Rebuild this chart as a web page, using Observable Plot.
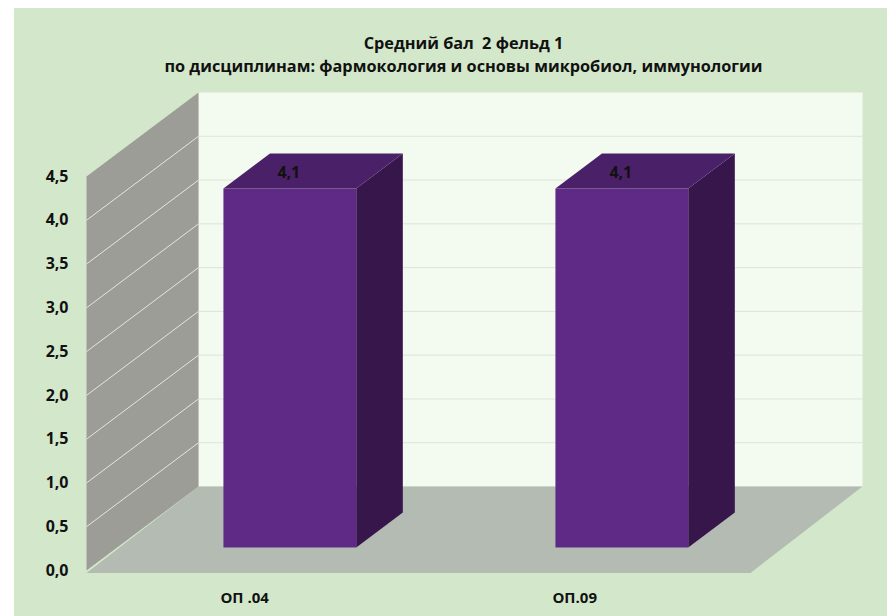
<!DOCTYPE html>
<html><head><meta charset="utf-8">
<script src="https://cdn.jsdelivr.net/npm/d3@7"></script>
<script src="https://cdn.jsdelivr.net/npm/@observablehq/plot@0.6"></script>
<style>
body{margin:0;background:#fff;width:887px;height:616px;overflow:hidden;position:relative;font-family:"Open Sans",sans-serif}
#panel{position:absolute;left:14px;top:8px;right:0;bottom:0;background:#d3e8cb}
#title{position:absolute;left:20px;top:32px;width:887px;text-align:center;font-weight:bold;font-size:16.3px;line-height:23px;color:#111}
#chart{position:absolute;left:0;top:0}
#chart svg text{font-weight:bold}
</style></head><body>
<div id="panel"></div>
<div id="title"><div>Средний бал&nbsp;&nbsp;2 фельд 1</div><div>по дисциплинам: фармокология и основы микробиол, иммунологии</div></div>
<div id="chart"></div>
<script>
// data
const categories = ["ОП .04", "ОП.09"];
const values = [4.1, 4.1];
const yTicks = [0, 0.5, 1, 1.5, 2, 2.5, 3, 3.5, 4, 4.5];

// 3D geometry (oblique projection expressed in data units)
const XMAX = 2, YMAX = 4.5;
const DX = 112 / 332, DY = 84 / 87.56;
const Z1 = 0.274, Z2 = 0.69, HALF = 0.2, OFF = 0.52, FLOOR_T = 0.028;
const P = (x, y, z) => ({x: x + z * DX, y: y + z * DY});
const poly = (id, pts) => pts.map(p => ({...p, id}));

const backWall = poly("back", [P(0,0,1), P(XMAX,0,1), P(XMAX,YMAX,1), P(0,YMAX,1)]);
const sideWall = poly("side", [P(0,0,0), P(0,0,1), P(0,YMAX,1), P(0,YMAX,0)]);
const floor = poly("floor", [P(0,-FLOOR_T,0), P(XMAX,-FLOOR_T,0), P(XMAX,0,1), P(0,0,1)]);

const inner = yTicks.filter(v => v > 0 && v < YMAX);
const backGrid = inner.map(v => { const a = P(0,v,1), b = P(XMAX,v,1); return {x1:a.x,y1:a.y,x2:b.x,y2:b.y}; });
const sideGrid = inner.map(v => { const a = P(0,v,0), b = P(0,v,1); return {x1:a.x,y1:a.y,x2:b.x,y2:b.y}; });

const fronts = [], sides = [], tops = [], labels = [], cats = [];
categories.forEach((c, i) => {
  const v = values[i], x0 = i + OFF - HALF, x1 = i + OFF + HALF;
  fronts.push(...poly("f"+i, [P(x0,0,Z1), P(x1,0,Z1), P(x1,v,Z1), P(x0,v,Z1)]));
  sides.push(...poly("s"+i, [P(x1,0,Z1), P(x1,0,Z2), P(x1,v,Z2), P(x1,v,Z1)]));
  tops.push(...poly("t"+i, [P(x0,v,Z1), P(x1,v,Z1), P(x1,v,Z2), P(x0,v,Z2)]));
  const lp = P(i + OFF, v, Z1);
  labels.push({x: lp.x, y: lp.y, text: v.toFixed(1).replace(".", ",")});
  const cp = P(x0, 0, Z1);
  cats.push({x: cp.x, y: 0, text: c});
});

const shape = (data, fill) => Plot.line(data, {x:"x", y:"y", z:"id", fill, stroke:"none", curve:"linear-closed"});

const chart = Plot.plot({
  width: 887, height: 616,
  marginLeft: 86, marginRight: 137, marginTop: 176, marginBottom: 46,
  x: {domain: [0, XMAX], axis: null},
  y: {domain: [0, YMAX], axis: null},
  style: {background: "transparent", overflow: "visible", fontFamily: "Open Sans, sans-serif", color: "#111", fontSize: "15px"},
  marks: [
    shape(backWall, "#f3faef"),
    Plot.link(backGrid, {x1:"x1", y1:"y1", x2:"x2", y2:"y2", stroke:"#dde4d8", strokeWidth:1}),
    shape(floor, "#b4bbb2"),
    shape(sideWall, "#9d9d97"),
    Plot.link(sideGrid, {x1:"x1", y1:"y1", x2:"x2", y2:"y2", stroke:"#e4e6dc", strokeWidth:1}),
    shape(sides, "#37164c"),
    shape(fronts, "#5f2a86"),
    shape(tops, "#4a2068"),
    Plot.text(labels, {x:"x", y:"y", text:"text", dy:-16, dx:-1, fontWeight:"bold", fontSize:16, fill:"#111"}),
    Plot.text(cats, {x:"x", y:"y", text:"text", dy:28, dx:-3, textAnchor:"start", fontWeight:"bold", fontSize:15, fill:"#111"}),
    Plot.axisY({ticks: yTicks, tickSize: 0, tickPadding: 18, tickFormat: d => d.toFixed(1).replace(".", ","), fontWeight: "bold", fontSize: 16, fill:"#111"})
  ]
});
document.getElementById("chart").appendChild(chart);
</script>
</body></html>
